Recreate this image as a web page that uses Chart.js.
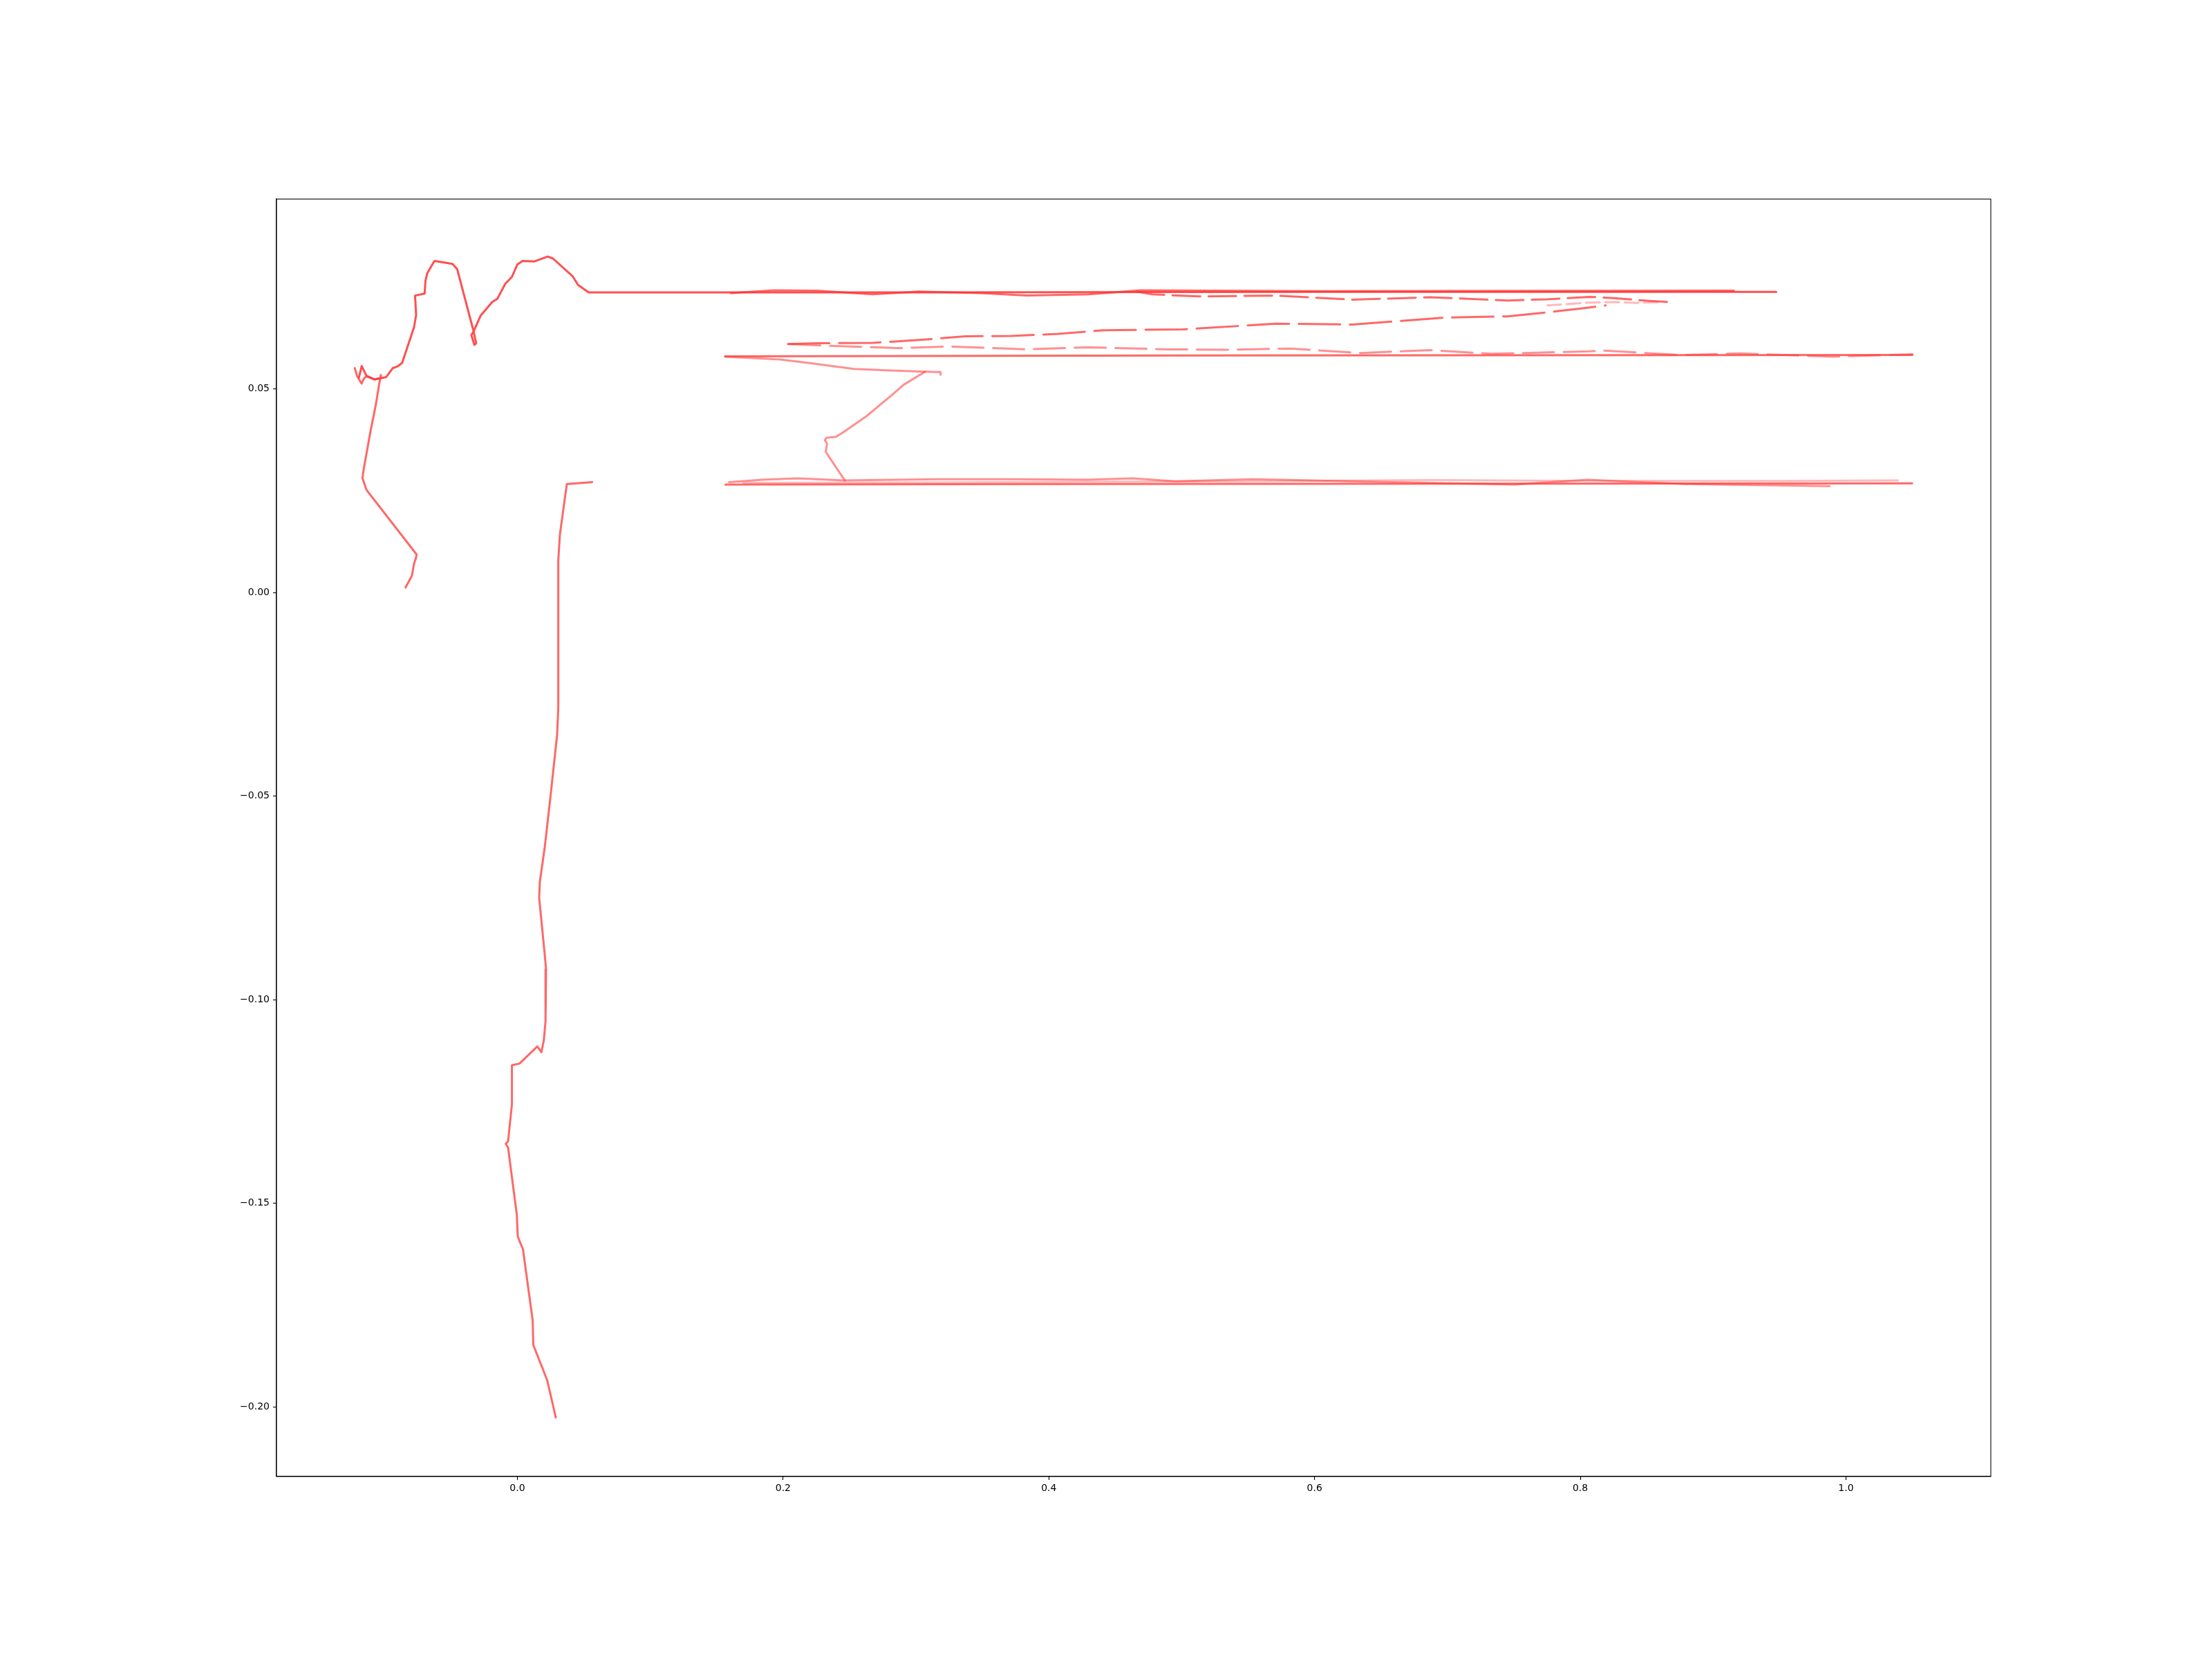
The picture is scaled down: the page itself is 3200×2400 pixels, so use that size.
<!DOCTYPE html>
<html><head><meta charset="utf-8">
<script src="https://cdn.jsdelivr.net/npm/chart.js@4/dist/chart.umd.min.js"></script>
<style>html,body{margin:0;padding:0;background:#fff}#wrap{width:3200px;height:2400px}</style>
</head><body><div id="wrap"><canvas id="c" width="3200" height="2400"></canvas></div>
<script>
// ---- data (x, y pairs in data units) ----
const xTicks = [0.0, 0.2, 0.4, 0.6, 0.8, 1.0];
const xTickLabels = ["0.0", "0.2", "0.4", "0.6", "0.8", "1.0"];
const yTicks = [-0.20, -0.15, -0.10, -0.05, 0.00, 0.05];
const yTickLabels = ["\u22120.20", "\u22120.15", "\u22120.10", "\u22120.05", "0.00", "0.05"];

const leftLower = [[-0.0842,0.0012],[-0.0794,0.0041],[-0.0778,0.0070],[-0.0764,0.0084],[-0.0758,0.0093],[-0.1136,0.0252],[-0.1166,0.0281],[-0.1156,0.0304],[-0.1106,0.0395],[-0.1066,0.0460],[-0.1040,0.0512],[-0.1027,0.0534],[-0.1031,0.0527],[-0.1076,0.0523],[-0.1136,0.0531],[-0.1156,0.0525],[-0.1172,0.0513],[-0.1206,0.0531],[-0.1224,0.0551]];
const leftUpper = [[-0.1192,0.0528],[-0.1172,0.0556],[-0.1136,0.0532],[-0.1076,0.0523],[-0.0987,0.0529],[-0.0937,0.0551],[-0.0897,0.0556],[-0.0867,0.0564],[-0.0778,0.0651],[-0.0762,0.0681],[-0.0770,0.0729],[-0.0698,0.0734],[-0.0692,0.0765],[-0.0678,0.0784],[-0.0648,0.0801],[-0.0624,0.0814],[-0.0489,0.0807],[-0.0453,0.0794],[-0.0330,0.0642],[-0.0310,0.0612],[-0.0324,0.0608],[-0.0346,0.0632],[-0.0324,0.0645],[-0.0276,0.0680],[-0.0190,0.0713],[-0.0151,0.0721],[-0.0091,0.0758],[-0.0041,0.0775],[-0.0001,0.0805],[0.0039,0.0814],[0.0128,0.0813],[0.0228,0.0825],[0.0268,0.0820],[0.0417,0.0776],[0.0457,0.0755],[0.0536,0.0737],[0.3000,0.0737],[0.6000,0.0738],[0.9475,0.0738]];
const topWobbleA = [[0.1606,0.0735],[0.1931,0.0742],[0.2256,0.0741],[0.2674,0.0732],[0.3023,0.0739],[0.3487,0.0735],[0.3835,0.0729],[0.4300,0.0732],[0.4690,0.0742],[0.6000,0.0740],[0.9156,0.0741]];
const topWobbleB = [[0.4663,0.0739],[0.4779,0.0732],[0.5127,0.0727],[0.5708,0.0729],[0.6288,0.0719],[0.6869,0.0725],[0.7450,0.0717],[0.7752,0.0720],[0.8072,0.0726],[0.8250,0.0723],[0.8519,0.0716],[0.8668,0.0713]];
const upperMid = [[0.2036,0.0610],[0.2256,0.0612],[0.2674,0.0613],[0.3023,0.0620],[0.3371,0.0629],[0.3719,0.0630],[0.4068,0.0635],[0.4416,0.0644],[0.5011,0.0646],[0.5708,0.0660],[0.6288,0.0658],[0.6985,0.0675],[0.7450,0.0678],[0.7812,0.0690],[0.8072,0.0700],[0.8191,0.0705]];
const paleTop = [[0.7752,0.0705],[0.8072,0.0712],[0.8270,0.0713],[0.8420,0.0711],[0.8610,0.0713]];
const lowerMid = [[0.2047,0.0610],[0.2326,0.0606],[0.2860,0.0600],[0.3255,0.0604],[0.3836,0.0597],[0.4300,0.0602],[0.4895,0.0597],[0.5359,0.0596],[0.5824,0.0599],[0.6335,0.0588],[0.6869,0.0595],[0.7333,0.0586],[0.8072,0.0592],[0.8161,0.0594],[0.8768,0.0583],[0.9206,0.0587],[0.9903,0.0579],[1.0500,0.0585]];
const midStraight = [[0.1564,0.0580],[0.5000,0.0582],[1.0500,0.0583]];
const branchSide = [[0.1564,0.0579],[0.1977,0.0572],[0.2210,0.0563],[0.2535,0.0549],[0.2814,0.0545],[0.3069,0.0542],[0.3185,0.0541],[0.3185,0.0535]];
const branchDown = [[0.3069,0.0542],[0.2907,0.0510],[0.2838,0.0490],[0.2628,0.0433],[0.2442,0.0391],[0.2396,0.0382],[0.2326,0.0380],[0.2314,0.0374],[0.2331,0.0365],[0.2321,0.0346],[0.2338,0.0337],[0.2465,0.0275]];
const bottomMain = [[0.1566,0.0265],[0.4000,0.0266],[0.7000,0.0267],[1.0498,0.0268]];
const bottomWavy = [[0.1593,0.0271],[0.1845,0.0277],[0.2110,0.0280],[0.2455,0.0275],[0.3172,0.0278],[0.3703,0.0278],[0.4287,0.0277],[0.4632,0.0280],[0.4951,0.0273],[0.5535,0.0278],[0.6593,0.0271],[0.7506,0.0265],[0.8053,0.0277],[0.8783,0.0266],[0.9878,0.0261]];
const bottomPale = [[0.1700,0.0269],[0.3000,0.0270],[0.4500,0.0272],[0.5500,0.0273],[0.6900,0.0276],[0.8000,0.0274],[0.9500,0.0274],[1.0389,0.0275]];
const vertical = [[0.0563,0.0271],[0.0372,0.0266],[0.0320,0.0142],[0.0308,0.0079],[0.0308,-0.0282],[0.0299,-0.0350],[0.0251,-0.0496],[0.0207,-0.0623],[0.0169,-0.0711],[0.0164,-0.0750],[0.0202,-0.0876],[0.0216,-0.0925],[0.0212,-0.1052],[0.0199,-0.1100],[0.0181,-0.1129],[0.0150,-0.1115],[0.0016,-0.1157],[-0.0041,-0.1161],[-0.0041,-0.1257],[-0.0070,-0.1348],[-0.0088,-0.1354],[-0.0070,-0.1363],[-0.0004,-0.1529],[0.0003,-0.1582],[0.0042,-0.1613],[0.0115,-0.1787],[0.0120,-0.1848],[0.0225,-0.1935],[0.0289,-0.2026]];

const X_MIN = -0.1813, X_MAX = 1.109, Y_MIN = -0.2171, Y_MAX = 0.0966;

const STRONG = 'rgba(255,55,55,0.88)';
const MED = 'rgba(255,60,60,0.78)';
const PALE = 'rgba(255,70,70,0.6)';
const PALEST = 'rgba(255,80,80,0.4)';

function ds(points, color, dash) {
  return {
    data: points.map(p => ({x: p[0], y: p[1]})),
    showLine: true, borderColor: color, borderWidth: 3, pointRadius: 0,
    borderDash: dash || [], tension: 0, fill: false, borderCapStyle: 'round', borderJoinStyle: 'round'
  };
}

const boxPlugin = {
  id: 'box',
  afterDraw(chart) {
    const {ctx, chartArea: a} = chart;
    ctx.save(); ctx.strokeStyle = '#000'; ctx.lineWidth = 1.1;
    ctx.strokeRect(a.left, a.top, a.right - a.left, a.bottom - a.top);
    ctx.restore();
  }
};

new Chart(document.getElementById('c'), {
  type: 'scatter',
  data: { datasets: [
    ds(leftLower, MED),
    ds(leftUpper, STRONG),
    ds(topWobbleA, MED),
    ds(topWobbleB, MED, [40, 12]),
    ds(upperMid, MED, [60, 14]),
    ds(paleTop, PALEST, [20, 8]),
    ds(lowerMid, PALE, [45, 14]),
    ds(midStraight, MED),
    ds(branchSide, PALE),
    ds(branchDown, PALE),
    ds(bottomMain, MED),
    ds(bottomWavy, PALE),
    ds(bottomPale, PALEST),
    ds(vertical, MED)
  ]},
  plugins: [boxPlugin],
  options: {
    responsive: false, animation: false, devicePixelRatio: 1,
    layout: { padding: { left: 0, right: 320, top: 288, bottom: 0 } },
    plugins: { legend: { display: false }, tooltip: { enabled: false } },
    scales: {
      x: {
        type: 'linear', min: X_MIN, max: X_MAX,
        afterBuildTicks: s => { s.ticks = xTicks.map(v => ({value: v})); },
        afterFit: s => { s.height = 264; },
        ticks: { callback: (v) => { const i = xTicks.findIndex(t => Math.abs(t - v) < 1e-9); return i >= 0 ? xTickLabels[i] : ''; },
                 font: { family: 'DejaVu Sans', size: 14 }, color: '#000', padding: 4, maxRotation: 0, autoSkip: false },
        grid: { display: true, drawOnChartArea: false, drawTicks: true, tickLength: 5, color: '#000', lineWidth: 1.1 },
        border: { display: true, color: '#000', width: 1.1 }
      },
      y: {
        type: 'linear', min: Y_MIN, max: Y_MAX,
        afterBuildTicks: s => { s.ticks = yTicks.map(v => ({value: v})); },
        afterFit: s => { s.width = 400; },
        ticks: { callback: (v) => { const i = yTicks.findIndex(t => Math.abs(t - v) < 1e-9); return i >= 0 ? yTickLabels[i] : ''; },
                 font: { family: 'DejaVu Sans', size: 14 }, color: '#000', padding: 5, autoSkip: false },
        grid: { display: true, drawOnChartArea: false, drawTicks: true, tickLength: 5, color: '#000', lineWidth: 1.1 },
        border: { display: true, color: '#000', width: 1.1 }
      }
    }
  }
});
</script></body></html>
